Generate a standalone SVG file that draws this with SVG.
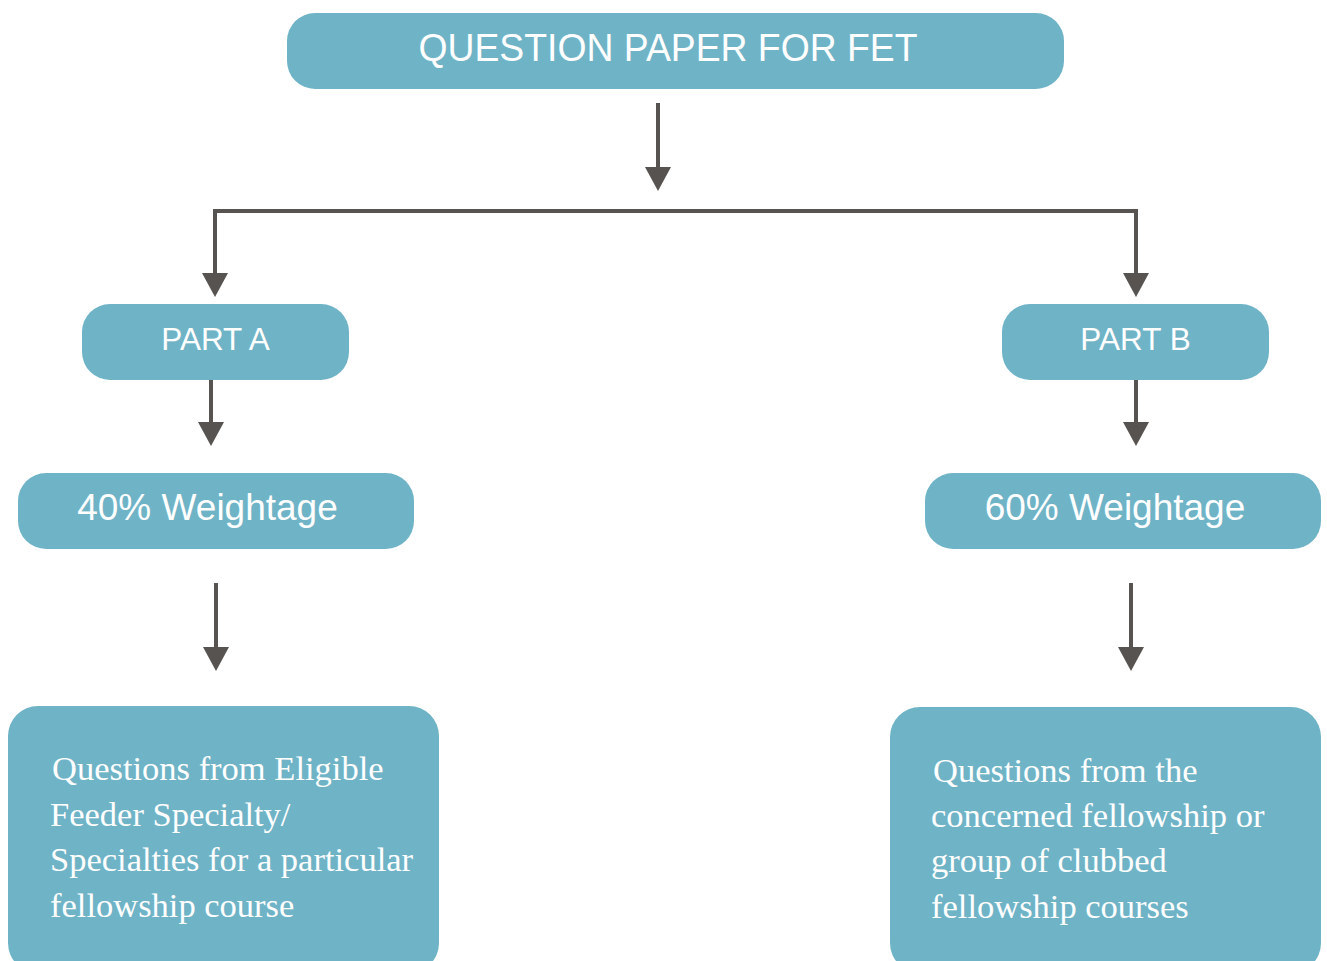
<svg xmlns="http://www.w3.org/2000/svg" width="1327" height="961" viewBox="0 0 1327 961">
  <style>
    .box { fill: #6fb3c7; }
    .sans { font-family: "Liberation Sans", Arial, sans-serif; fill: #ffffff; text-anchor: middle; }
    .serif { font-family: "Liberation Serif", "Times New Roman", serif; fill: #ffffff; font-size: 34.5px; }
    .conn { stroke: #575350; stroke-width: 4; fill: none; }
  </style>
  <defs>
    <marker id="arrow" viewBox="0 0 24 26" refX="0" refY="13" markerWidth="24" markerHeight="26" markerUnits="userSpaceOnUse" orient="auto">
      <path d="M0,0 L24,13 L0,26 z" fill="#575350"/>
    </marker>
  </defs>
  <rect width="1327" height="961" fill="#ffffff"/>

  <g id="connectors">
    <line class="conn" x1="658" y1="103" x2="658" y2="167" marker-end="url(#arrow)"/>
    <line class="conn" x1="213" y1="211" x2="1138" y2="211"/>
    <line class="conn" x1="215" y1="209" x2="215" y2="273" marker-end="url(#arrow)"/>
    <line class="conn" x1="1136" y1="209" x2="1136" y2="273" marker-end="url(#arrow)"/>
    <line class="conn" x1="211" y1="380" x2="211" y2="422" marker-end="url(#arrow)"/>
    <line class="conn" x1="1136" y1="380" x2="1136" y2="422" marker-end="url(#arrow)"/>
    <line class="conn" x1="216" y1="583" x2="216" y2="647" marker-end="url(#arrow)"/>
    <line class="conn" x1="1131" y1="583" x2="1131" y2="647" marker-end="url(#arrow)"/>
  </g>

  <g id="title">
    <rect class="box" x="287" y="13" width="777" height="76" rx="28" ry="28"/>
    <text class="sans" x="668" y="61" font-size="39" textLength="499" lengthAdjust="spacingAndGlyphs">QUESTION PAPER FOR FET</text>
  </g>

  <g id="partA">
    <rect class="box" x="82" y="304" width="267" height="76" rx="28" ry="28"/>
    <text class="sans" x="215.5" y="350" font-size="31.5">PART A</text>
  </g>

  <g id="partB">
    <rect class="box" x="1002" y="304" width="267" height="76" rx="28" ry="28"/>
    <text class="sans" x="1135.5" y="350" font-size="31.5">PART B</text>
  </g>

  <g id="weightA">
    <rect class="box" x="18" y="473" width="396" height="76" rx="28" ry="28"/>
    <text class="sans" x="207.5" y="520" font-size="37">40% Weightage</text>
  </g>

  <g id="weightB">
    <rect class="box" x="925" y="473" width="396" height="76" rx="28" ry="28"/>
    <text class="sans" x="1115" y="520" font-size="37">60% Weightage</text>
  </g>

  <g id="descA">
    <rect class="box" x="8" y="706" width="431" height="267" rx="30" ry="30"/>
    <text class="serif">
      <tspan x="52" y="780">Questions from Eligible</tspan>
      <tspan x="50" y="826">Feeder Specialty/</tspan>
      <tspan x="50" y="871">Specialties for a particular</tspan>
      <tspan x="50" y="917">fellowship course</tspan>
    </text>
  </g>

  <g id="descB">
    <rect class="box" x="890" y="707" width="431" height="266" rx="30" ry="30"/>
    <text class="serif">
      <tspan x="933" y="782">Questions from the</tspan>
      <tspan x="931" y="827">concerned fellowship or</tspan>
      <tspan x="931" y="872">group of clubbed</tspan>
      <tspan x="931" y="918">fellowship courses</tspan>
    </text>
  </g>
</svg>
